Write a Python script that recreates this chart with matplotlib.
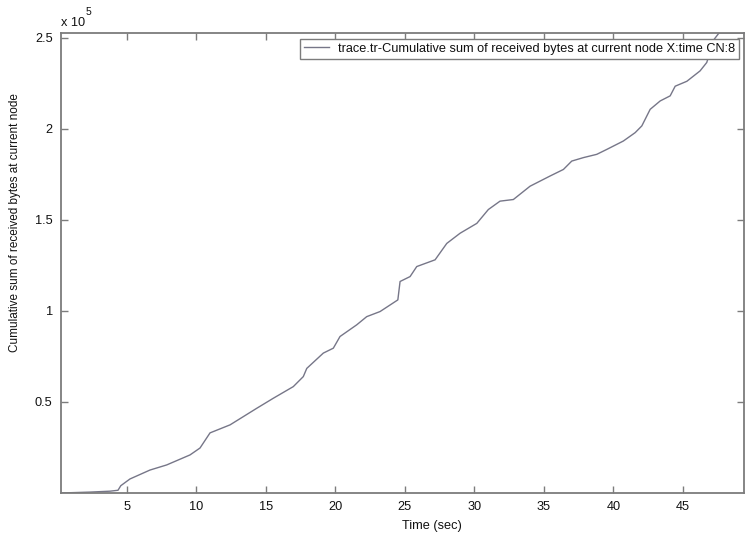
import numpy as np
import matplotlib
matplotlib.use("Agg")
import matplotlib.pyplot as plt

plt.rcParams['font.family'] = ['Liberation Sans', 'DejaVu Sans']

# Time (sec) and cumulative received bytes
time_sec = [0.27, 2.36, 3.80, 4.37, 4.57, 5.23, 6.67, 7.87, 9.55, 10.27,
            10.99, 12.43, 14.35, 15.54, 16.98, 17.70, 17.95, 19.14, 19.86, 20.34,
            21.54, 22.26, 23.22, 24.30, 24.50, 24.66, 25.38, 25.86, 27.18, 28.02,
            28.98, 30.18, 31.01, 31.85, 32.81, 34.01, 35.45, 36.41, 37.01, 37.85,
            38.81, 39.53, 40.72, 41.57, 42.05, 42.65, 43.37, 44.09, 44.45, 45.29,
            46.24, 46.72, 47.25, 47.60, 49.40]
cum_bytes = [0, 500, 1000, 1500, 4000, 7700, 12600, 15400, 20900, 24700,
             33000, 37400, 46500, 52000, 58400, 63900, 68400, 76800, 79500, 85900,
             92300, 96800, 99600, 105000, 106000, 116100, 118800, 124300, 128000, 137000,
             142600, 148000, 155600, 160200, 161100, 168400, 174000, 177600, 182200, 184100,
             185900, 188600, 193200, 197800, 201500, 210600, 215200, 218000, 223300, 226000,
             231700, 236300, 249000, 252500, 252500]

x_ticks = [5, 10, 15, 20, 25, 30, 35, 40, 45]
y_ticks = [0.5, 1, 1.5, 2, 2.5]
legend_label = "trace.tr-Cumulative sum of received bytes at current node X:time CN:8"

txt = '#111111'
fig = plt.figure(figsize=(7.46, 5.38), dpi=100)
ax = fig.add_axes([61/746, 45/538, 683/746, 460/538])

ax.plot(time_sec, np.array(cum_bytes) / 1e5, color='#767688', lw=1.0, label=legend_label)

ax.set_xlim(0.27, 49.4)
ax.set_ylim(0, 2.525)
ax.set_xticks(x_ticks)
ax.set_yticks(y_ticks)
ax.set_xticklabels([str(t) for t in x_ticks])
ax.set_yticklabels(['0.5', '1', '1.5', '2', '2.5'])

for s in ax.spines.values():
    s.set_color('#7c7c7c')
    s.set_linewidth(1.3)
ax.tick_params(direction='in', length=5, width=1, color='#7c7c7c',
               top=True, right=True, labelsize=9.2, labelcolor=txt, pad=6)

fig.text(61/746, 1 - 23/538, 'x 10', fontsize=9.2, color=txt, va='center', ha='left')
fig.text(86/746, 1 - 12/538, '5', fontsize=7.5, color=txt, va='center', ha='left')

fig.text(432/746, 1 - 526/538, 'Time (sec)', fontsize=9.2, color=txt, ha='center', va='center')
fig.text(15/746, 1 - 223/538, 'Cumulative sum of received bytes at current node',
         fontsize=8.5, color=txt, rotation=90, ha='center', va='center')

leg = ax.legend(loc='upper right', bbox_to_anchor=(678/683, 454/460), borderaxespad=0,
                fancybox=False, fontsize=9.2, handlelength=2.0, handletextpad=0.7,
                borderpad=0.3, framealpha=1)
for t in leg.get_texts():
    t.set_color(txt)
leg.get_frame().set_edgecolor('#7c7c7c')
leg.get_frame().set_linewidth(1.0)

fig.savefig('out.png', dpi=100)
